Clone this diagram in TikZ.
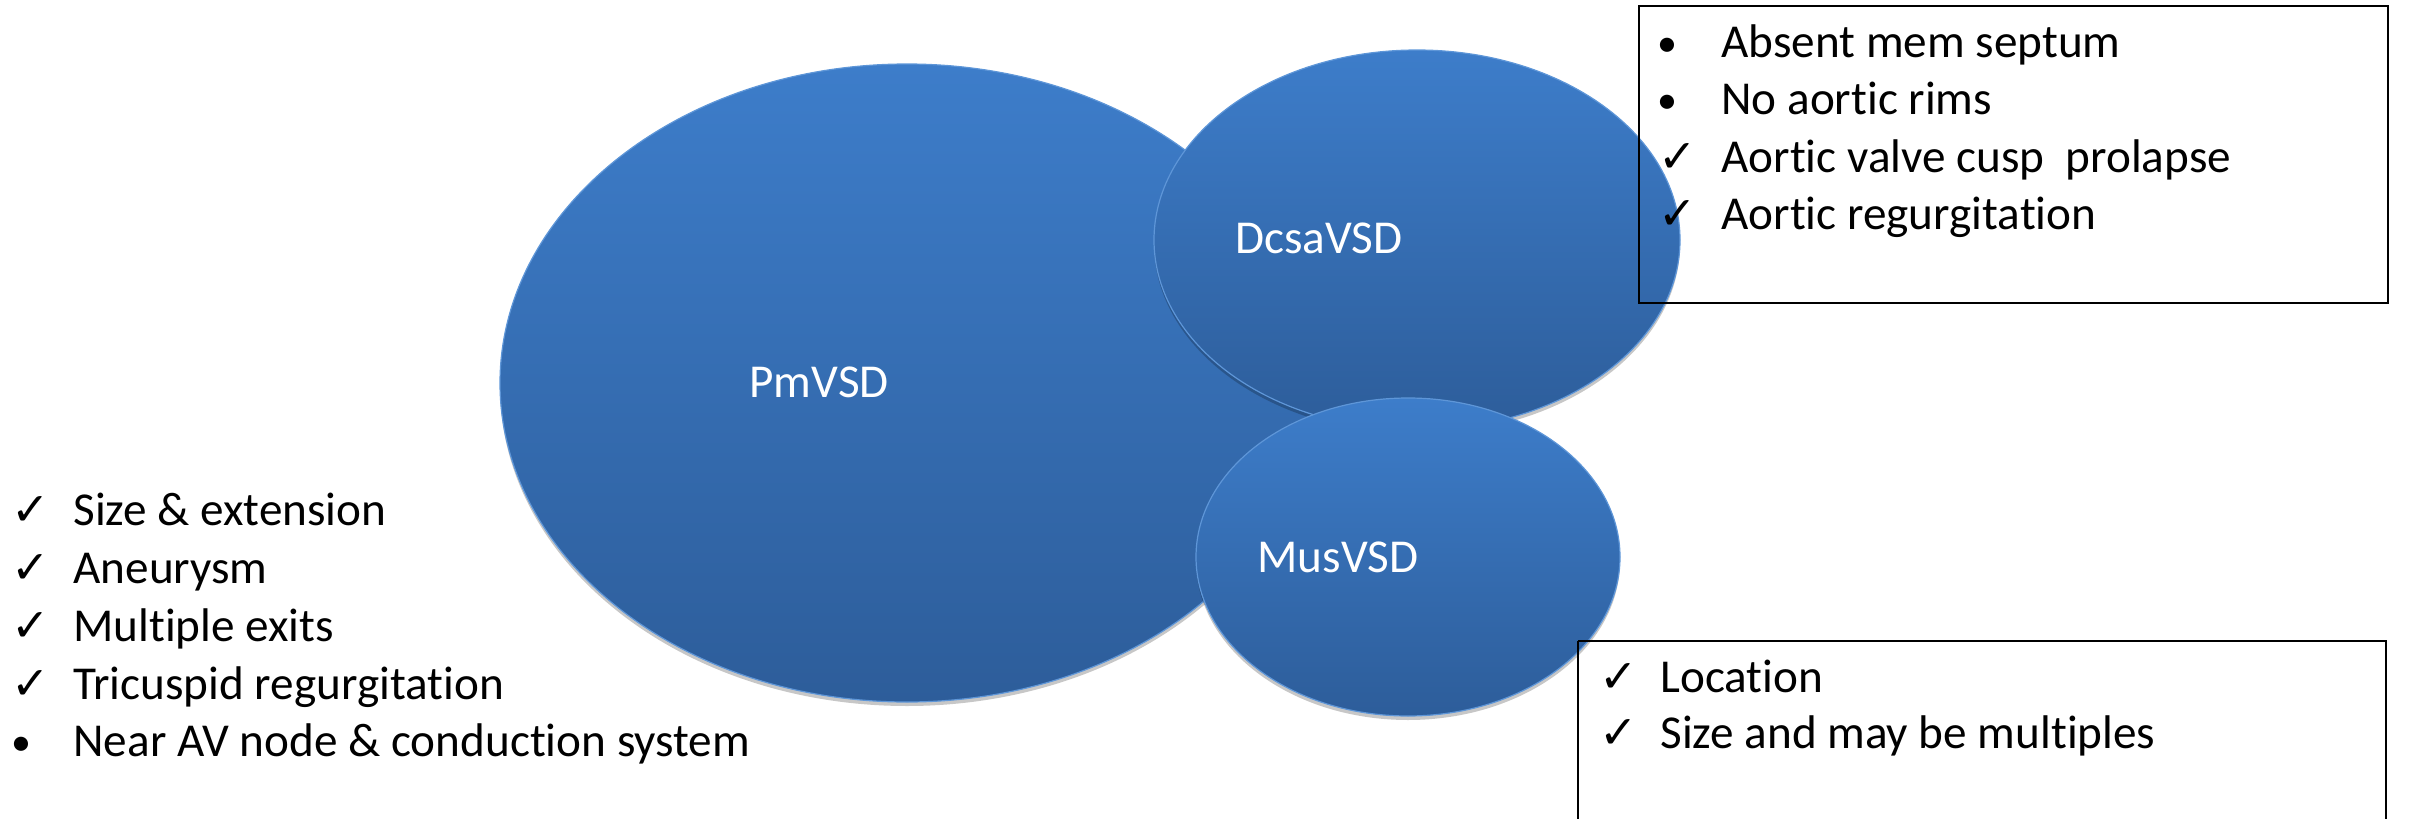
\documentclass[tikz,border=0pt]{standalone}
\usepackage{fontspec}
\setmainfont{Carlito}[Ligatures={NoCommon}]
\newfontfamily\symfont{DejaVu Sans}
\definecolor{elltop}{HTML}{3D7DCA}
\definecolor{ellbot}{HTML}{2D5D9A}
\definecolor{elledge}{HTML}{5E96D8}
\begin{document}
\begin{tikzpicture}[x=0.5pt,y=-0.5pt,
  txt/.style={anchor=base west, inner sep=0pt, font=\fontsize{23.6}{28}\selectfont},
  lbl/.style={anchor=base west, inner sep=0pt, text=white, font=\fontsize{23.6}{28}\selectfont},
  chk/.style={anchor=base west, inner sep=0pt, font=\symfont\fontsize{23}{28}\selectfont},
  bul/.style={anchor=base, inner sep=0pt, font=\fontsize{20}{24}\selectfont},
  shadowfill/.style={fill=black, opacity=0.22},
  ellfill/.style={top color=elltop, bottom color=ellbot, draw=elledge, line width=0.6pt},
  infobox/.style={draw=black, line width=1.2pt}]
\useasboundingbox (0,0) rectangle (2415,819);
% PmVSD
\fill[shadowfill] (907,387) ellipse [x radius=407, y radius=319];
\shade[ellfill] (907,383) ellipse [x radius=407, y radius=319];
% DcsaVSD
\fill[shadowfill] (1417,244) ellipse [x radius=263, y radius=190];
\shade[ellfill] (1417,240) ellipse [x radius=263, y radius=190];
% MusVSD
\fill[shadowfill] (1408,561) ellipse [x radius=212, y radius=159];
\shade[ellfill] (1408,557) ellipse [x radius=212, y radius=159];
% labels
\node[lbl] (pm) at (749,397) {PmVSD};
\node[lbl] (dcsa) at (1235,253) {DcsaVSD};
\node[lbl] (mus) at (1257,572) {MusVSD};
% top box
\draw[infobox] (1639,6) rectangle (2388,303);
\node[bul] (b1) at (1667,56) {•};
\node[txt] (t1) at (1721,57) {Absent mem septum};
\node[bul] (b2) at (1667,113) {•};
\node[txt] (t2) at (1721,114) {No aortic rims};
\node[chk] (c3) at (1658,172) {✓};
\node[txt] (t3) at (1721,172) {Aortic valve cusp\ \ prolapse};
\node[chk] (c4) at (1658,229) {✓};
\node[txt] (t4) at (1721,229) {Aortic regurgitation};
% bottom box
\draw[infobox] (1578,641) -- (2386,641) -- (2386,830) (1578,641) -- (1578,830);
\node[chk] (d1) at (1599,692) {✓};
\node[txt] (u1) at (1660,692) {Location};
\node[chk] (d2) at (1599,748) {✓};
\node[txt] (u2) at (1660,748) {Size and may be multiples};
% left list
\node[chk] (e1) at (11,525) {✓};
\node[txt] (l1) at (73,525) {Size \& extension};
\node[chk] (e2) at (11,583) {✓};
\node[txt] (l2) at (73,583) {Aneurysm};
\node[chk] (e3) at (11,641) {✓};
\node[txt] (l3) at (73,641) {Multiple exits};
\node[chk] (e4) at (11,699) {✓};
\node[txt] (l4) at (73,699) {Tricuspid regurgitation};
\node[bul] (e5) at (21,755) {•};
\node[txt] (l5) at (73,756) {Near AV node \& conduction system};
\end{tikzpicture}
\end{document}
